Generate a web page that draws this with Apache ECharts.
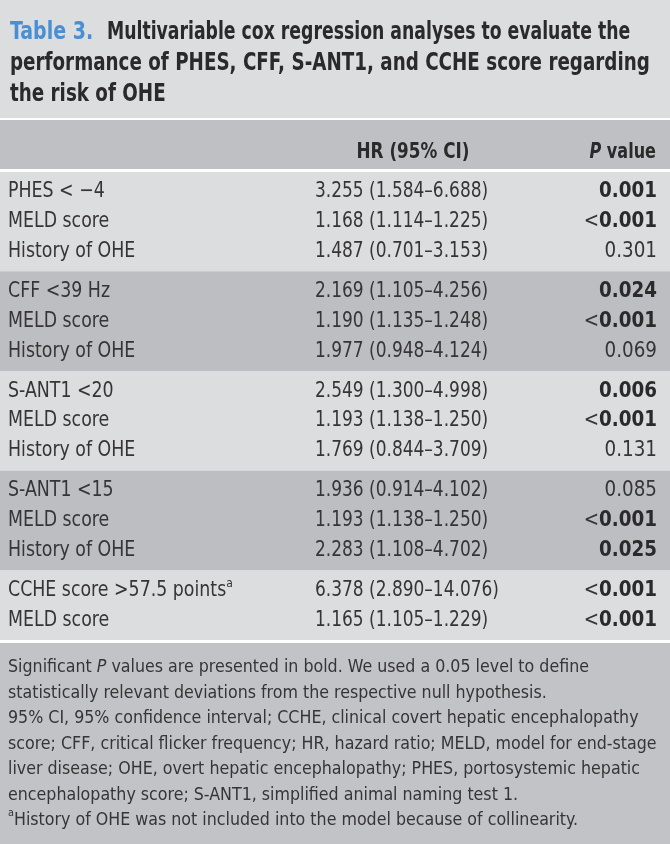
<!DOCTYPE html>
<html><head><meta charset="utf-8">
<script src="https://cdn.jsdelivr.net/npm/echarts@6/dist/echarts.min.js"></script>
<style>html,body{margin:0;padding:0;background:#dcdddf;}#c{width:670px;height:844px;}</style>
</head><body><div id="c"></div>
<script>
// ---- data ----
const groupSizes = [3, 3, 3, 3, 2];
const rowLabels = ['PHES < \u22124', 'MELD score', 'History of OHE',
  'CFF <39 Hz', 'MELD score', 'History of OHE',
  'S-ANT1 <20', 'MELD score', 'History of OHE',
  'S-ANT1 <15', 'MELD score', 'History of OHE',
  'CCHE score >57.5 points', 'MELD score'];
const rowSup = ['', '', '', '', '', '', '', '', '', '', '', '', 'a', ''];
const hrValues = [3.255, 1.168, 1.487, 2.169, 1.190, 1.977, 2.549, 1.193, 1.769, 1.936, 1.193, 2.283, 6.378, 1.165];
const ciLower = [1.584, 1.114, 0.701, 1.105, 1.135, 0.948, 1.300, 1.138, 0.844, 0.914, 1.138, 1.108, 2.890, 1.105];
const ciUpper = [6.688, 1.225, 3.153, 4.256, 1.248, 4.124, 4.998, 1.250, 3.709, 4.102, 1.250, 4.702, 14.076, 1.229];
const pValues = ['0.001', '<0.001', '0.301', '0.024', '<0.001', '0.069', '0.006', '<0.001', '0.131', '0.085', '<0.001', '0.025', '<0.001', '<0.001'];
const pSignificant = [true, true, false, true, true, false, true, true, false, false, true, true, true, true];
const headerLabels = ['HR (95% CI)', 'P value'];
const titleLabel = 'Table 3.';
const titleLines = ['Multivariable cox regression analyses to evaluate the',
  'performance of PHES, CFF, S-ANT1, and CCHE score regarding',
  'the risk of OHE'];
const footLines = [
  ['Significant ', 'P', ' values are presented in bold. We used a 0.05 level to define'],
  ['statistically relevant deviations from the respective null hypothesis.'],
  ['95% CI, 95% confidence interval; CCHE, clinical covert hepatic encephalopathy'],
  ['score; CFF, critical flicker frequency; HR, hazard ratio; MELD, model for end-stage'],
  ['liver disease; OHE, overt hepatic encephalopathy; PHES, portosystemic hepatic'],
  ['encephalopathy score; S-ANT1, simplified animal naming test 1.'],
  ['a', 'History of OHE was not included into the model because of collinearity.']
];

// ---- layout ----
const FONT = '"DejaVu Sans Condensed","Liberation Sans Narrow","Noto Sans",sans-serif';
const TXT = '#353535';
const PAD = 1 / 3; // group padding in row units
const bandColors = ['#dcdddf', '#bdbec1'];

const rowPos = [];
const bands = [];
let cur = 0;
groupSizes.forEach((n, g) => {
  const start = cur;
  for (let k = 0; k < n; k++) rowPos.push(start + PAD / 2 + k + 0.5);
  cur = start + n + PAD;
  bands.push([start, cur, g % 2]);
});
const totalUnits = cur;
const rowData = rowPos.map((y, i) => [y, i]);
const fmt = v => v.toFixed(3);

const chart = echarts.init(document.getElementById('c'), null, { renderer: 'canvas' });

const rich = {
  n: { fontFamily: FONT, fontSize: 21, fill: TXT, fontWeight: 'normal', lineHeight: 26 },
  b: { fontFamily: FONT, fontSize: 21, fill: '#2a2a2a', fontWeight: 'bold', lineHeight: 26 },
  sup: { fontFamily: FONT, fontSize: 13, fill: TXT, lineHeight: 26, verticalAlign: 'top', padding: [0, 0, 8, 0] }
};
const titleStyle = { fontFamily: FONT, fontSize: 24, fontWeight: 'bold', fill: '#2a2a2a', lineHeight: 31, align: 'left', verticalAlign: 'top' };

const footText = footLines.map((parts, li) => {
  if (li === 0) return '{f|' + parts[0] + '}{fi|' + parts[1] + '}{f|' + parts[2] + '}';
  if (li === 6) return '{s|' + parts[0] + '}{f|' + parts[1] + '}';
  return '{f|' + parts[0] + '}';
}).join('\n');

const option = {
  animation: false,
  backgroundColor: '#dcdddf',
  graphic: [
    { type: 'rect', shape: { x: 0, y: 118, width: 670, height: 2 }, style: { fill: '#ffffff' }, z: 1 },
    { type: 'rect', shape: { x: 0, y: 120, width: 670, height: 49 }, style: { fill: '#bfc0c3' }, z: 1 },
    { type: 'rect', shape: { x: 0, y: 169, width: 670, height: 3 }, style: { fill: '#ffffff' }, z: 1 },
    { type: 'rect', shape: { x: 0, y: 640, width: 670, height: 3 }, style: { fill: '#ffffff' }, z: 1 },
    { type: 'rect', shape: { x: 0, y: 643, width: 670, height: 201 }, style: { fill: '#c2c3c6' }, z: 0 },
    { type: 'text', x: 10, y: 17.5, scaleX: 0.88, z: 5, style: Object.assign({}, titleStyle, { text: titleLabel, fill: '#4a8fd3' }) },
    { type: 'text', x: 107, y: 17.5, scaleX: 0.80, z: 5, style: Object.assign({}, titleStyle, { text: titleLines[0] }) },
    { type: 'text', x: 10, y: 48.5, scaleX: 0.848, z: 5, style: Object.assign({}, titleStyle, { text: titleLines[1] + '\n' + titleLines[2] }) },
    { type: 'text', x: 8, y: 655, scaleX: 0.98, z: 5, style: {
        text: footText, align: 'left', verticalAlign: 'top',
        rich: {
          f: { fontFamily: FONT, fontSize: 18, fontWeight: 'normal', fill: TXT, lineHeight: 25.5 },
          fi: { fontFamily: FONT, fontSize: 18, fontWeight: 'normal', fontStyle: 'italic', fill: TXT, lineHeight: 25.5 },
          s: { fontFamily: FONT, fontSize: 11, fontWeight: 'normal', fill: TXT, lineHeight: 25.5, verticalAlign: 'top', padding: [0, 0, 8, 0] }
        } } },
    { type: 'text', x: 413, y: 153, scaleX: 0.89, z: 5, style: { text: headerLabels[0], fontFamily: FONT, fontSize: 21, fontWeight: 'bold', fill: '#2a2a2a', align: 'center', verticalAlign: 'middle' } },
    { type: 'text', x: 656, y: 153, scaleX: 0.85, z: 5, style: {
        text: '{i|' + headerLabels[1].charAt(0) + '}{b|' + headerLabels[1].slice(1) + '}',
        align: 'right', verticalAlign: 'middle',
        rich: {
          i: { fontFamily: FONT, fontSize: 21, fontWeight: 'bold', fontStyle: 'italic', fill: '#2a2a2a' },
          b: { fontFamily: FONT, fontSize: 21, fontWeight: 'bold', fill: '#2a2a2a' }
        } } }
  ],
  grid: { left: 0, right: 0, top: 172, height: 468, containLabel: false },
  xAxis: { type: 'value', min: 0, max: 670, show: false },
  yAxis: { type: 'value', min: 0, max: totalUnits, inverse: true, show: false },
  series: [{
    type: 'custom',
    z: 1,
    data: bands,
    encode: { y: [0, 1] },
    renderItem: (params, api) => {
      const p0 = api.coord([0, api.value(0)]);
      const p1 = api.coord([670, api.value(1)]);
      return { type: 'rect', shape: { x: p0[0], y: p0[1], width: p1[0] - p0[0], height: p1[1] - p0[1] }, style: { fill: bandColors[api.value(2)] } };
    }
  }, {
    type: 'custom',
    z: 3,
    data: rowData,
    encode: { y: 0 },
    renderItem: (params, api) => {
      const i = api.value(1);
      const y = api.coord([0, api.value(0)])[1];
      const xL = api.coord([8, 0])[0], xH = api.coord([315, 0])[0], xP = api.coord([657, 0])[0];
      const pv = pValues[i];
      const w = pSignificant[i] ? 'b' : 'n';
      const pText = pv.charAt(0) === '<' ? '{n|<}{' + w + '|' + pv.slice(1) + '}' : '{' + w + '|' + pv + '}';
      const lab = '{n|' + rowLabels[i] + '}' + (rowSup[i] ? '{sup|' + rowSup[i] + '}' : '');
      return {
        type: 'group',
        children: [
          { type: 'text', x: xL, y: y, scaleX: 0.92, style: { text: lab, rich: rich, align: 'left', verticalAlign: 'middle' } },
          { type: 'text', x: xH, y: y, scaleX: 0.9, style: { text: '{n|' + fmt(hrValues[i]) + ' (' + fmt(ciLower[i]) + '\u2013' + fmt(ciUpper[i]) + ')}', rich: rich, align: 'left', verticalAlign: 'middle' } },
          { type: 'text', x: xP, y: y, scaleX: 0.97, style: { text: pText, rich: rich, align: 'right', verticalAlign: 'middle' } }
        ]
      };
    }
  }]
};
chart.setOption(option);
</script></body></html>
